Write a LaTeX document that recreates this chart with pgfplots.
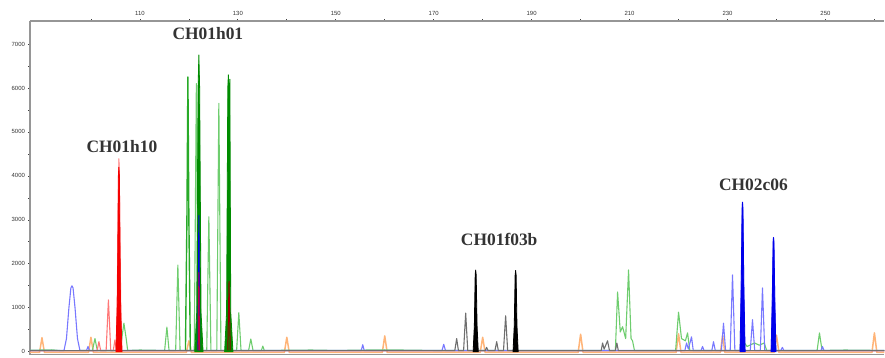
\documentclass[border=0pt]{standalone}
\usepackage{pgfplots}
\pgfplotsset{compat=1.18}
\usepackage{fontspec}
\setmainfont{Liberation Serif}
\newfontfamily\ticksfont{Liberation Sans}
\definecolor{lgreen}{RGB}{110,205,110}
\definecolor{mgreen}{RGB}{40,170,40}
\definecolor{dgreen}{RGB}{0,140,0}
\definecolor{lblue}{RGB}{120,120,255}
\definecolor{dblue}{RGB}{0,0,235}
\definecolor{lred}{RGB}{255,120,120}
\definecolor{dred}{RGB}{245,0,0}
\definecolor{lorange}{RGB}{255,180,120}
\definecolor{lblack}{RGB}{110,110,110}
\definecolor{axgray}{RGB}{150,150,150}
\begin{document}
\begin{tikzpicture}
\begin{axis}[name=ax, scale only axis, width=855bp, height=334bp,
  xmin=87.55, xmax=262.04, ymin=-68, ymax=7523,
  axis x line=top, axis y line=left,
  axis line style={-, draw=axgray, line width=1.2bp},
  xtick={110,130,...,250}, minor xtick={100,120,...,260},
  ytick={0,1000,...,7000}, minor ytick={500,1500,...,6500},
  tick style={draw=gray!50!black, line width=0.7bp},
  major tick length=3bp, minor tick length=3bp, tick align=center,
  tick label style={font=\ticksfont\fontsize{6}{7}\selectfont, text=gray!40!black},
  /pgf/number format/assume math mode=true,
  scaled y ticks=false,
  yticklabel style={/pgf/number format/1000 sep={}},
  line join=round,
  clip=true]
% orange size standard
\addplot[lorange, line width=1.5bp] coordinates {
(87.55,-15)(89.5,-15)(90.0,320)(90.5,-15)(99.5,-15)(100.0,330)(100.5,-15)
(119.5,-15)(120.0,250)(120.5,-15)(139.5,-15)(140.0,330)(140.5,-15)
(159.5,-15)(160.0,360)(160.5,-15)(179.5,-15)(180.0,330)(180.5,-15)
(199.5,-15)(200.0,400)(200.5,-15)(219.5,-15)(220.0,410)(220.5,-15)
(228.55,-15)(229.0,380)(229.45,-15)(239.5,-15)(240.0,380)(240.5,-15)
(259.5,-15)(260.0,430)(260.5,-15)(262.04,-15)};
% light green trace
\addplot[lgreen, line width=1.1bp] coordinates {
(87.55,35)(92,45)(94,25)(100.3,30)(100.82,300)(101.3,30)
(106.0,30)(106.3,300)(106.73,650)(107.2,300)(107.5,30)
(110,40)(115.05,30)(115.51,560)(115.95,30)
(117.3,30)(117.75,1970)(118.2,30)
(121.1,30)(121.53,6100)(121.95,30)
(123.65,30)(124.08,3070)(124.5,30)
(125.7,30)(126.12,5650)(126.55,30)
(129.75,30)(130.2,890)(130.65,30)
(132.2,30)(132.65,290)(133.1,30)
(134.8,30)(135.1,130)(135.4,30)
(145,40)(150,30)(160,45)(170,30)
(207.1,30)(207.55,1360)(208.1,450)(208.57,570)(209.2,300)(209.79,1860)(210.3,300)(210.6,250)(211.0,30)
(219.4,30)(220.0,900)(220.6,300)(221.4,250)(221.84,430)(222.3,30)
(233.0,30)(233.47,200)(234.0,120)(235.5,200)(236.5,150)(237.5,200)(238.0,30)
(248.3,30)(248.78,430)(249.3,30)(254,40)(262.04,30)};
\addplot[mgreen, line width=1.4bp] coordinates {
(119.3,30)(119.6,3000)(119.8,6250)(120.0,3000)(120.3,30)};
% light red trace
\addplot[lred, line width=1.1bp] coordinates {
(87.55,20)(101.25,20)(101.63,230)(102.0,20)(103.1,20)(103.57,1180)(104.05,20)
(104.55,20)(104.9,270)(105.2,20)(105.25,20)(105.71,4390)(106.2,20)
(178.2,20)(178.57,320)(178.9,20)(186.4,20)(186.73,320)(187.1,20)
(238.9,20)(239.2,450)(239.5,20)(262.04,20)};
% light blue trace
\addplot[lblue, line width=1.1bp] coordinates {
(87.55,30)(94.5,30)(95.0,300)(95.5,1000)(95.9,1450)(96.12,1500)(96.35,1450)(96.75,1000)(97.25,300)(97.75,30)
(99.1,30)(99.4,120)(99.7,30)
(155.2,30)(155.51,160)(155.8,30)
(171.7,30)(172.04,170)(172.4,30)
(221.3,30)(221.63,200)(222.0,60)(222.65,340)(223.0,30)
(224.6,30)(224.9,120)(225.2,30)
(226.8,30)(227.14,230)(227.5,30)
(228.75,30)(229.18,650)(229.6,30)
(230.55,30)(231.02,1750)(231.5,30)
(232.6,30)(233.06,3400)(233.5,30)
(234.65,30)(235.1,730)(235.55,30)
(236.7,30)(237.14,1450)(237.6,30)
(238.95,30)(239.39,2600)(239.85,30)
(240.9,30)(241.2,100)(241.5,30)
(249.1,30)(249.39,120)(249.7,30)(262.04,30)};
% light black trace
\addplot[lblack, line width=1.1bp] coordinates {
(87.55,25)(170,25)(174.3,25)(174.69,300)(175.05,25)(176.1,25)(176.53,880)(176.95,25)
(180.5,25)(180.8,100)(181.1,25)(182.5,25)(182.86,230)(183.2,25)
(184.25,25)(184.69,820)(185.1,25)
(204.2,25)(204.49,200)(204.8,60)(205.5,250)(205.9,25)(207.1,25)(207.4,200)(207.7,25)(262.04,25)};
% dark filled main peaks
\addplot[dred, fill=dred, line width=0.8bp] coordinates {
(105.1,0)(105.4,1200)(105.6,4000)(105.71,4200)(105.82,4000)(106.02,1200)(106.35,0)} \closedcycle;
\addplot[dgreen, fill=dgreen, line width=0.8bp] coordinates {
(121.2,0)(121.6,900)(121.88,6000)(122.04,6750)(122.2,6000)(122.48,900)(122.9,0)} \closedcycle;
\addplot[dgreen, fill=dgreen, line width=0.8bp] coordinates {
(127.3,0)(127.7,900)(127.95,6000)(128.06,6300)(128.2,5800)(128.37,6200)(128.55,900)(129.0,0)} \closedcycle;
\addplot[black, fill=black, line width=0.8bp] coordinates {
(178.05,0)(178.3,600)(178.47,1750)(178.57,1860)(178.67,1750)(178.85,600)(179.1,0)} \closedcycle;
\addplot[black, fill=black, line width=0.8bp] coordinates {
(186.2,0)(186.45,600)(186.63,1740)(186.73,1850)(186.83,1740)(187.0,600)(187.25,0)} \closedcycle;
\addplot[dblue, fill=dblue, line width=0.8bp] coordinates {
(232.55,0)(232.8,1500)(232.97,3250)(233.06,3400)(233.16,3250)(233.33,1500)(233.6,0)} \closedcycle;
\addplot[dblue, fill=dblue, line width=0.8bp] coordinates {
(238.9,0)(239.15,1200)(239.31,2500)(239.39,2600)(239.49,2500)(239.65,1200)(239.9,0)} \closedcycle;
% traces inside the green allele peaks
\addplot[dblue, line width=1bp] coordinates {(121.85,30)(122.04,3100)(122.22,30)};
\addplot[purple, line width=1bp] coordinates {(121.9,30)(122.04,1800)(122.18,30)};
\addplot[red!60!black, line width=1bp] coordinates {(127.95,30)(128.2,1600)(128.45,30)};
\draw[axgray, line width=1.5bp] (rel axis cs:0,0) -- (rel axis cs:1,0);
% labels
\node[font=\bfseries\fontsize{17.5}{20}\selectfont, text=black!80] at (axis cs:123.88,7227) {CH01h01};
\node[font=\bfseries\fontsize{17.5}{20}\selectfont, text=black!80] at (axis cs:106.33,4659) {CH01h10};
\node[font=\bfseries\fontsize{17.5}{20}\selectfont, text=black!80] at (axis cs:183.37,2545) {CH01f03b};
\node[font=\bfseries\fontsize{17.5}{20}\selectfont, text=black!80] at (axis cs:235.3,3795) {CH02c06};
\end{axis}
\path (ax.south west) ++(-30bp,-1bp) rectangle ([yshift=21bp]ax.north east);
\end{tikzpicture}
\end{document}
